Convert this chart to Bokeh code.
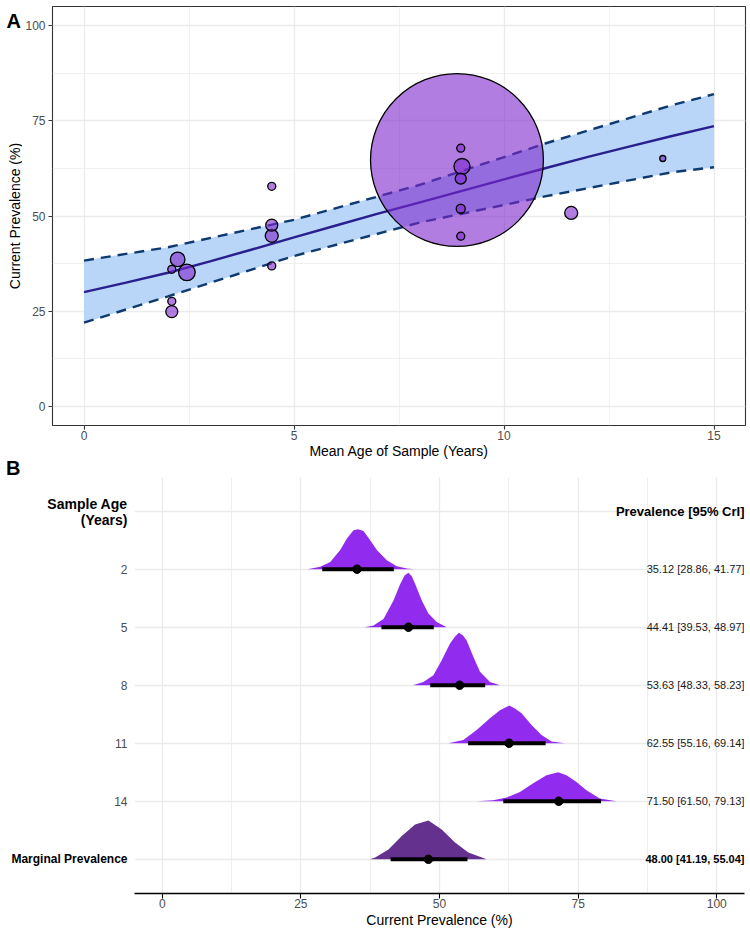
from bokeh.plotting import figure
from bokeh.layouts import column, row
from bokeh.models import Range1d, FixedTicker, Div
from bokeh.core.properties import value
from bokeh.embed import file_html
from bokeh.resources import INLINE
import numpy as np

FONT = "Liberation Sans"

# ---------------- Panel A data ----------------
study_age = [2.09, 2.23, 2.45, 2.09, 2.09, 4.47, 4.47, 4.47, 4.47,
             8.88, 8.97, 9.00, 8.97, 8.97, 8.97, 11.60, 13.78]
study_prev = [36.0, 38.6, 35.2, 27.6, 24.9, 57.8, 47.6, 44.8, 36.9,
              64.7, 67.8, 63.0, 59.8, 51.9, 44.7, 50.8, 65.1]
study_n = [53, 176, 228, 53, 119, 53, 119, 140, 53,
           24700, 53, 212, 100, 67, 53, 140, 30]

fit_age = [0, 1, 2, 3, 4, 5, 6, 7, 8, 9, 10, 11, 12, 13, 14, 15]
fit_mid = [30.0, 32.5, 35.1, 38.1, 41.2, 44.4, 47.5, 50.6, 53.6, 56.6,
           59.6, 62.6, 65.5, 68.3, 71.0, 73.6]
band_age = [0, 2, 5, 8, 11, 14, 15]
band_lo = [22.0, 28.9, 39.5, 48.3, 55.2, 61.5, 62.8]
band_hi = [38.3, 41.8, 49.0, 58.2, 69.1, 79.1, 82.0]

a_xticks = [0, 5, 10, 15]
a_yticks = [0, 25, 50, 75, 100]

# ---------------- Panel B data ----------------
age_labels = ["2", "5", "8", "11", "14"]
medians = [35.12, 44.41, 53.63, 62.55, 71.50]
lower = [28.86, 39.53, 48.33, 55.16, 61.50]
upper = [41.77, 48.97, 58.23, 69.14, 79.13]
marg_median, marg_lo, marg_hi = 48.00, 41.19, 55.04

# posterior densities (x in %, scaled density height in row units)
dens_x = [
    [26.2, 28.5, 30.3, 32.1, 33.3, 34.5, 35.3, 36.3, 37.5, 38.7, 40.5, 42.3, 44.1, 45.5],
    [36.5, 38.1, 39.9, 41.7, 42.9, 43.7, 44.4, 45.0, 45.6, 46.8, 48.0, 49.5, 51.3],
    [45.2, 47.1, 48.9, 50.4, 51.9, 52.8, 53.5, 54.2, 54.9, 56.1, 57.3, 59.1, 60.9],
    [51.6, 54.3, 56.7, 59.1, 60.9, 62.6, 63.6, 64.8, 66.6, 68.4, 70.2, 72.6],
    [56.7, 59.7, 62.1, 64.5, 66.9, 69.3, 71.4, 72.9, 74.7, 76.5, 78.9, 81.9],
]
dens_h = [
    [0, 0.04, 0.125, 0.33, 0.53, 0.67, 0.69, 0.66, 0.50, 0.33, 0.155, 0.05, 0.012, 0],
    [0, 0.03, 0.14, 0.46, 0.74, 0.89, 0.94, 0.88, 0.75, 0.46, 0.235, 0.09, 0],
    [0, 0.057, 0.17, 0.43, 0.72, 0.84, 0.905, 0.86, 0.77, 0.49, 0.23, 0.057, 0],
    [0, 0.057, 0.23, 0.43, 0.57, 0.65, 0.60, 0.515, 0.315, 0.14, 0.03, 0],
    [0, 0.017, 0.064, 0.16, 0.31, 0.45, 0.50, 0.45, 0.33, 0.19, 0.046, 0],
]
marg_x = [37.5, 38.4, 40.8, 43.2, 45.6, 48.0, 50.4, 52.8, 55.2, 58.5]
marg_h = [0, 0.03, 0.17, 0.40, 0.60, 0.67, 0.515, 0.29, 0.115, 0]

b_xticks = [0, 25, 50, 75, 100]


def blank_fig(width, height, x_range, y_range, top, bottom):
    f = figure(width=width, height=height, x_range=x_range, y_range=y_range,
               x_axis_location=None, y_axis_location=None,
               output_backend="svg", toolbar_location=None,
               min_border_left=0, min_border_right=0,
               min_border_top=top, min_border_bottom=bottom)
    f.outline_line_color = None
    f.background_fill_color = "white"
    f.border_fill_color = "white"
    f.grid.visible = False
    return f


# ---------------- Panel A ----------------
W_STRIP_A = 22
HA = 461
LA, RA, TA, BA = 28, 5, 6, 34
xa = Range1d(-0.75, 15.75)
ya = Range1d(-5, 105)
pa = figure(width=750 - W_STRIP_A, height=HA, x_range=xa, y_range=ya,
            output_backend="svg", toolbar_location=None,
            min_border_left=LA, min_border_right=RA,
            min_border_top=TA, min_border_bottom=BA)
pa.outline_line_color = "#333333"
pa.outline_line_width = 1.1
pa.background_fill_color = "white"
pa.border_fill_color = "white"

pa.xaxis.ticker = FixedTicker(ticks=a_xticks, minor_ticks=[2.5, 7.5, 12.5])
pa.yaxis.ticker = FixedTicker(ticks=a_yticks, minor_ticks=[12.5, 37.5, 62.5, 87.5])
for g in (pa.xgrid, pa.ygrid):
    g.grid_line_color = "#ebebeb"
    g.grid_line_width = 1.3
    g.minor_grid_line_color = "#ebebeb"
    g.minor_grid_line_width = 0.7
for ax in (pa.xaxis, pa.yaxis):
    ax.axis_line_color = None
    ax.major_tick_line_color = "#333333"
    ax.major_tick_line_width = 1.1
    ax.major_tick_out = 4
    ax.major_tick_in = 0
    ax.minor_tick_line_color = None
    ax.major_label_text_font = FONT
    ax.major_label_text_font_size = "12px"
    ax.major_label_text_color = "#4d4d4d"
    ax.axis_label_text_font = FONT
    ax.axis_label_text_font_size = "14px"
    ax.axis_label_text_font_style = "normal"
    ax.axis_label_text_color = "black"
pa.xaxis.major_label_standoff = 1
pa.xaxis.axis_label_standoff = 0
pa.yaxis.major_label_standoff = 3
pa.xaxis.axis_label = "Mean Age of Sample (Years)"

pa.varea(x=band_age, y1=band_lo, y2=band_hi, fill_color="#b9d5f7", fill_alpha=1)
pa.line(band_age, band_lo, line_color="#0f3a70", line_width=2.4, line_dash="10 7")
pa.line(band_age, band_hi, line_color="#0f3a70", line_width=2.4, line_dash="10 7")
pa.line(fit_age, fit_mid, line_color="#2a1f8f", line_width=2.4)

# point size scaled by sqrt of sample size (area ~ n)
order = np.argsort(study_n)[::-1]
sizes = [2 * 0.55 * np.sqrt(study_n[i]) for i in order]
pa.scatter([study_age[i] for i in order], [study_prev[i] for i in order],
           size=sizes, fill_color="#7d26cd", fill_alpha=0.6,
           line_color="black", line_width=1.3)

# left strip of panel A: tag "A" and the y-axis title
ppy_a = (HA - TA - BA) / (ya.end - ya.start)
sa = blank_fig(W_STRIP_A, HA, Range1d(0, W_STRIP_A), ya, TA, BA)
sa.text(x=[6], y=[ya.end - 15 / ppy_a], text=["A"], text_font=value(FONT),
        text_font_size="20px", text_font_style="bold", text_align="left",
        text_baseline="alphabetic", text_color="black")
sa.text(x=[14], y=[(ya.start + ya.end) / 2], text=["Current Prevalence (%)"],
        angle=np.pi / 2, text_font=value(FONT), text_font_size="14px",
        text_align="center", text_baseline="middle", text_color="black")

root_a = row(sa, pa, spacing=0)

# ---------------- Panel B ----------------
W_STRIP_B = 134
RB, TB, BB = 6, 2, 36
HB = TB + 417 + BB
xb = Range1d(-5, 105)
yb = Range1d(-0.59, 6.58)
pb = figure(width=750 - W_STRIP_B, height=HB, x_range=xb, y_range=yb,
            y_axis_location=None,
            output_backend="svg", toolbar_location=None,
            min_border_left=0, min_border_right=RB,
            min_border_top=TB, min_border_bottom=BB)
pb.outline_line_color = None
pb.background_fill_color = "white"
pb.border_fill_color = "white"

n_age = len(age_labels)
rows = [n_age - i for i in range(n_age)]  # 5..1
header_row = n_age + 1
marg_row = 0

pb.xaxis.ticker = FixedTicker(ticks=b_xticks, minor_ticks=[12.5, 37.5, 62.5, 87.5])
pb.xgrid.grid_line_color = "#ebebeb"
pb.xgrid.grid_line_width = 1.3
pb.xgrid.minor_grid_line_color = "#ebebeb"
pb.xgrid.minor_grid_line_width = 0.8
pb.ygrid.ticker = FixedTicker(ticks=list(range(marg_row, header_row + 1)))
pb.ygrid.grid_line_color = "#ebebeb"
pb.ygrid.grid_line_width = 1.3

xax = pb.xaxis[0]
xax.axis_line_color = "black"
xax.axis_line_width = 1.3
xax.major_tick_line_color = "black"
xax.major_tick_line_width = 1.1
xax.major_tick_out = 5
xax.major_tick_in = 0
xax.minor_tick_line_color = None
xax.major_label_standoff = 0
xax.major_label_text_font = FONT
xax.major_label_text_font_size = "12px"
xax.major_label_text_color = "#4d4d4d"
xax.axis_label = "Current Prevalence (%)"
xax.axis_label_standoff = 1
xax.axis_label_text_font = FONT
xax.axis_label_text_font_size = "14px"
xax.axis_label_text_font_style = "normal"
xax.axis_label_text_color = "black"

for r, xs, hs in zip(rows, dens_x, dens_h):
    pb.varea(x=xs, y1=[r] * len(xs), y2=[r + h for h in hs],
             fill_color="#912cee", fill_alpha=1)
pb.varea(x=marg_x, y1=[marg_row] * len(marg_x), y2=[marg_row + h for h in marg_h],
         fill_color="#65318f", fill_alpha=1)

pb.segment(x0=lower + [marg_lo], x1=upper + [marg_hi], y0=rows + [marg_row],
           y1=rows + [marg_row], line_color="black", line_width=4)
pb.scatter(medians + [marg_median], rows + [marg_row], size=8.5,
           fill_color="black", line_color="black")

labels_txt = [f"{m:.2f} [{lo:.2f}, {hi:.2f}]" for m, lo, hi in zip(medians, lower, upper)]
pb.text(x=[xb.end] * n_age, y=rows, text=labels_txt, text_align="right",
        text_baseline="middle", text_font=value(FONT), text_font_size="11px",
        text_color="#1a1a1a")
pb.text(x=[xb.end], y=[marg_row],
        text=[f"{marg_median:.2f} [{marg_lo:.2f}, {marg_hi:.2f}]"],
        text_align="right", text_baseline="middle", text_font=value(FONT),
        text_font_size="11px", text_font_style="bold", text_color="black")
pb.text(x=[xb.end], y=[header_row], text=["Prevalence [95% CrI]"],
        text_align="right", text_baseline="middle", text_font=value(FONT),
        text_font_size="13px", text_font_style="bold", text_color="black")

# left strip of panel B: row labels
ppy_b = (HB - TB - BB) / (yb.end - yb.start)
sb = blank_fig(W_STRIP_B, HB, Range1d(0, W_STRIP_B), yb, TB, BB)
lab_x = W_STRIP_B - 7
sb.text(x=[lab_x] * n_age, y=rows, text=age_labels, text_align="right",
        text_baseline="middle", text_font=value(FONT), text_font_size="12px",
        text_color="#4d4d4d")
sb.text(x=[lab_x, lab_x], y=[header_row + 7.4 / ppy_b, header_row - 8.6 / ppy_b],
        text=["Sample Age", "(Years)"], text_align="right", text_baseline="middle",
        text_font=value(FONT), text_font_size="14px", text_font_style="bold",
        text_color="black")
sb.text(x=[lab_x], y=[marg_row], text=["Marginal Prevalence"], text_align="right",
        text_baseline="middle", text_font=value(FONT), text_font_size="12px",
        text_font_style="bold", text_color="black")

tag_b = Div(text="B", width=60, height=14, margin=0,
            styles={"font-family": FONT, "font-size": "20px", "font-weight": "bold",
                    "line-height": "14px", "padding-left": "6px", "color": "black"})

root_b = column(tag_b, row(sb, pb, spacing=0), spacing=0)

open("out.html", "w").write(file_html([root_a, root_b], INLINE))
